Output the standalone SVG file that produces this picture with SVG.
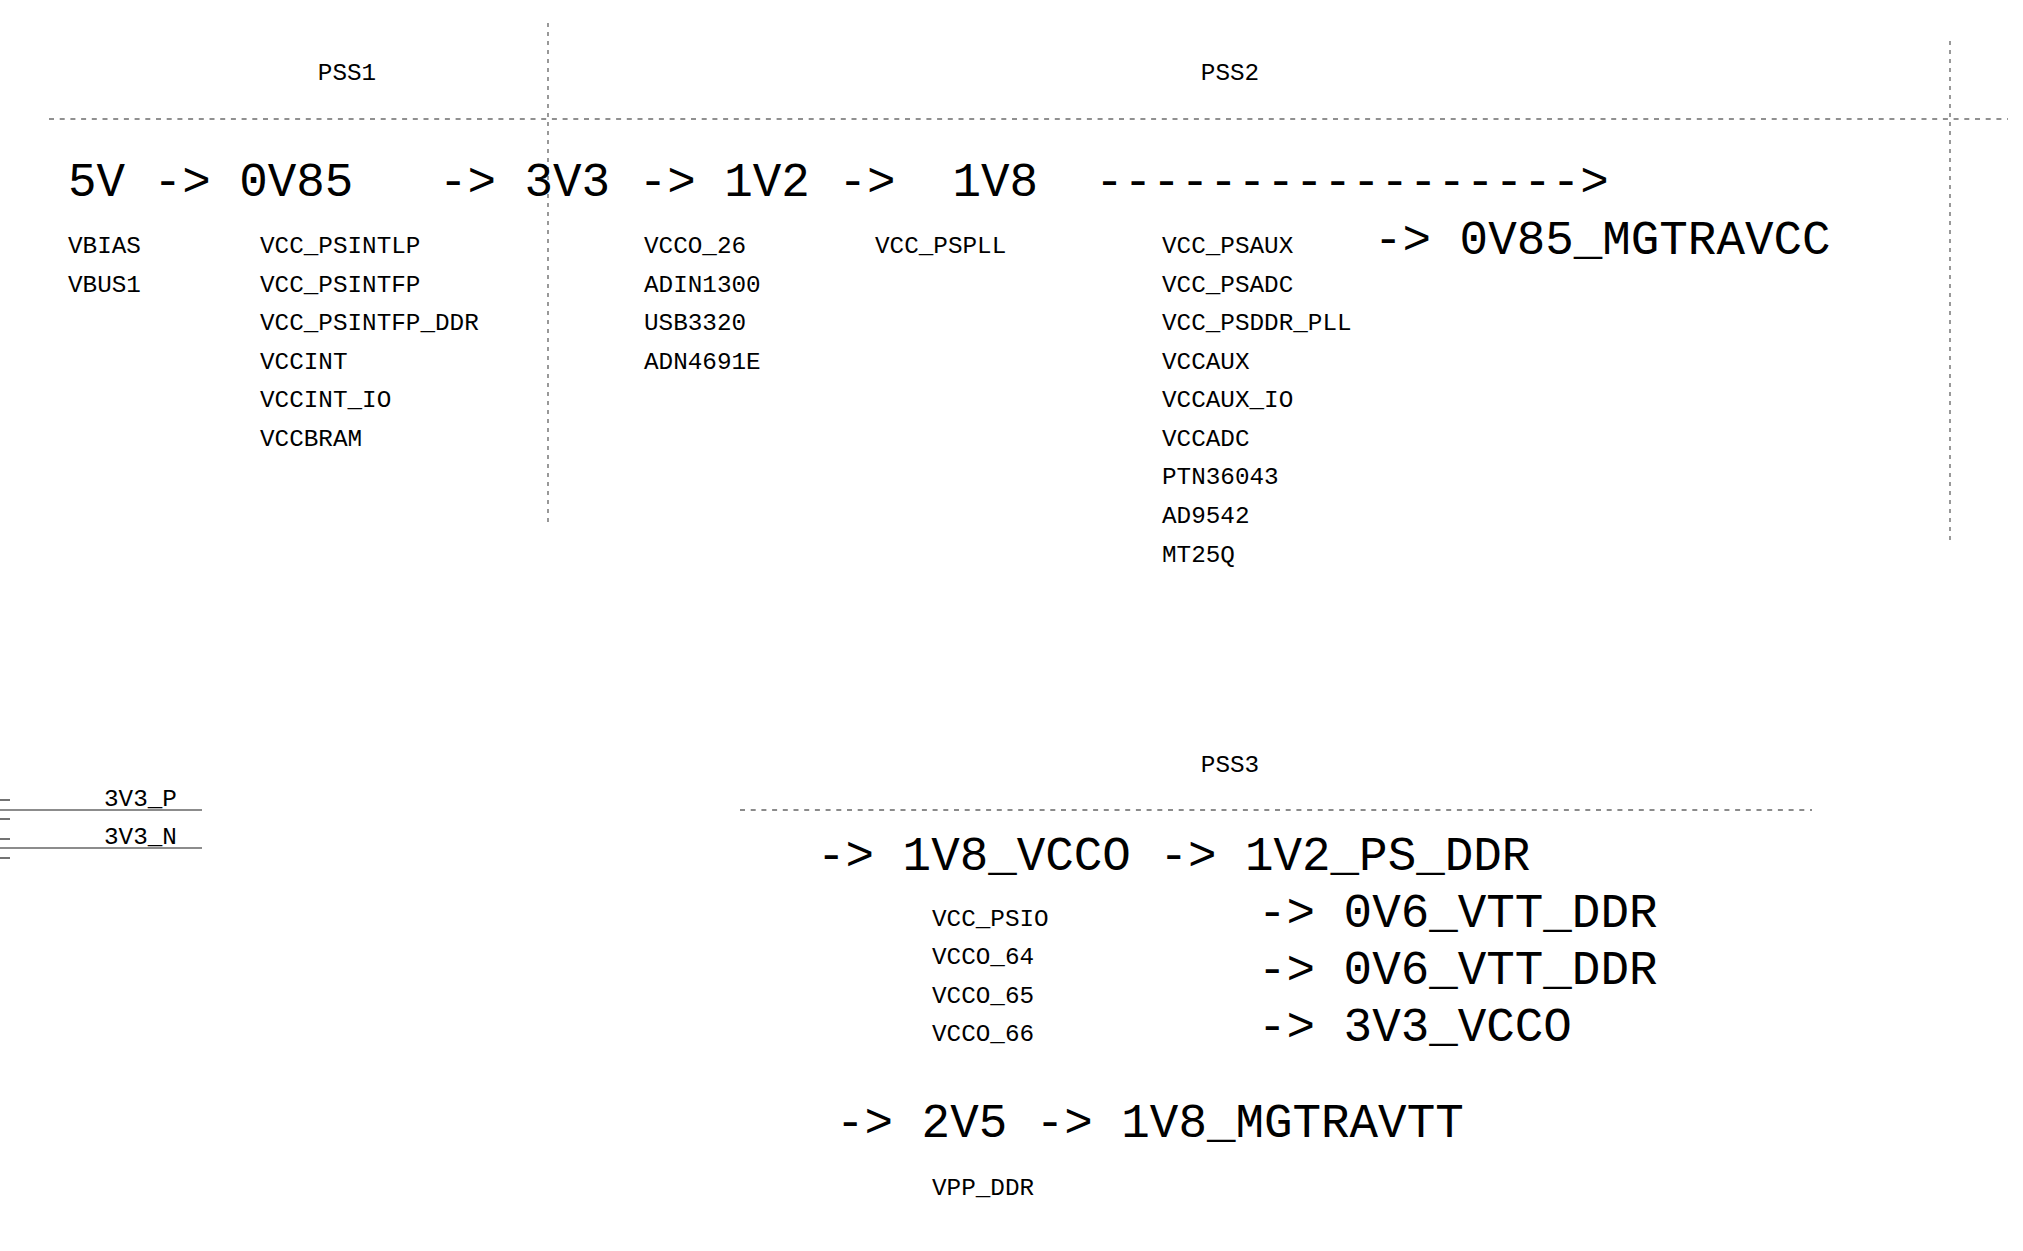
<svg xmlns="http://www.w3.org/2000/svg" width="2023" height="1251" viewBox="0 0 2023 1251">
<style>
text{font-family:"Liberation Mono","DejaVu Sans Mono",monospace;fill:#000;white-space:pre}
.big{font-size:47.55px}
.sm{font-size:24.3px}
.hd{stroke:#222;stroke-width:1.2;stroke-dasharray:5 5.7;fill:none}
.vd{stroke:#555;stroke-width:1.2;stroke-dasharray:4 5;fill:none}
.gd{stroke:#666;stroke-width:1.5;stroke-dasharray:5 5.7;fill:none}
.ln{stroke:#666;stroke-width:1.5;fill:none}
.mk{stroke:#444;stroke-width:1.5;fill:none}
</style>
<rect width="2023" height="1251" fill="#fff"/>
<g id="connectors">
<line class="hd" x1="49" y1="119" x2="2008" y2="119"/>
<line class="vd" x1="548" y1="23" x2="548" y2="523"/>
<line class="vd" x1="1950" y1="41" x2="1950" y2="540"/>
<line class="gd" x1="740" y1="810" x2="1812" y2="810"/>
<line class="ln" x1="0" y1="810" x2="202" y2="810"/>
<line class="ln" x1="0" y1="848" x2="202" y2="848"/>
<line class="mk" x1="0" y1="800" x2="10" y2="800"/>
<line class="mk" x1="0" y1="819" x2="10" y2="819"/>
<line class="mk" x1="0" y1="839" x2="10" y2="839"/>
<line class="mk" x1="0" y1="858" x2="10" y2="858"/>
</g>
<g id="pss1">
<text class="sm" x="347" y="80" text-anchor="middle">PSS1</text>
</g>
<g id="pss2">
<text class="sm" x="1230" y="80" text-anchor="middle">PSS2</text>
</g>
<g id="chain-top">
<text class="big" x="68" y="196" xml:space="preserve">5V -&gt; 0V85   -&gt; 3V3 -&gt; 1V2 -&gt;  1V8  -----------------&gt;</text>
<text class="big" x="1374" y="254">-&gt; 0V85_MGTRAVCC</text>
</g>
<g id="col-5v">
<text class="sm" x="68" y="253">VBIAS</text>
<text class="sm" x="68" y="292">VBUS1</text>
</g>
<g id="col-0v85">
<text class="sm" x="260" y="253">VCC_PSINTLP</text>
<text class="sm" x="260" y="292">VCC_PSINTFP</text>
<text class="sm" x="260" y="330">VCC_PSINTFP_DDR</text>
<text class="sm" x="260" y="369">VCCINT</text>
<text class="sm" x="260" y="407">VCCINT_IO</text>
<text class="sm" x="260" y="446">VCCBRAM</text>
</g>
<g id="col-3v3">
<text class="sm" x="644" y="253">VCCO_26</text>
<text class="sm" x="644" y="292">ADIN1300</text>
<text class="sm" x="644" y="330">USB3320</text>
<text class="sm" x="644" y="369">ADN4691E</text>
</g>
<g id="col-1v2">
<text class="sm" x="875" y="253">VCC_PSPLL</text>
</g>
<g id="col-1v8">
<text class="sm" x="1162" y="253">VCC_PSAUX</text>
<text class="sm" x="1162" y="292">VCC_PSADC</text>
<text class="sm" x="1162" y="330">VCC_PSDDR_PLL</text>
<text class="sm" x="1162" y="369">VCCAUX</text>
<text class="sm" x="1162" y="407">VCCAUX_IO</text>
<text class="sm" x="1162" y="446">VCCADC</text>
<text class="sm" x="1162" y="484">PTN36043</text>
<text class="sm" x="1162" y="523">AD9542</text>
<text class="sm" x="1162" y="562">MT25Q</text>
</g>
<g id="left-nets">
<text class="sm" x="104" y="806">3V3_P</text>
<text class="sm" x="104" y="844">3V3_N</text>
</g>
<g id="pss3">
<text class="sm" x="1230" y="772" text-anchor="middle">PSS3</text>
</g>
<g id="chain-bottom">
<text class="big" x="817" y="870">-&gt; 1V8_VCCO -&gt; 1V2_PS_DDR</text>
<text class="big" x="1258" y="927">-&gt; 0V6_VTT_DDR</text>
<text class="big" x="1258" y="984">-&gt; 0V6_VTT_DDR</text>
<text class="big" x="1258" y="1041">-&gt; 3V3_VCCO</text>
<text class="big" x="836" y="1137">-&gt; 2V5 -&gt; 1V8_MGTRAVTT</text>
</g>
<g id="col-1v8-vcco">
<text class="sm" x="932" y="926">VCC_PSIO</text>
<text class="sm" x="932" y="964">VCCO_64</text>
<text class="sm" x="932" y="1003">VCCO_65</text>
<text class="sm" x="932" y="1041">VCCO_66</text>
</g>
<g id="col-2v5">
<text class="sm" x="932" y="1195">VPP_DDR</text>
</g>
</svg>
